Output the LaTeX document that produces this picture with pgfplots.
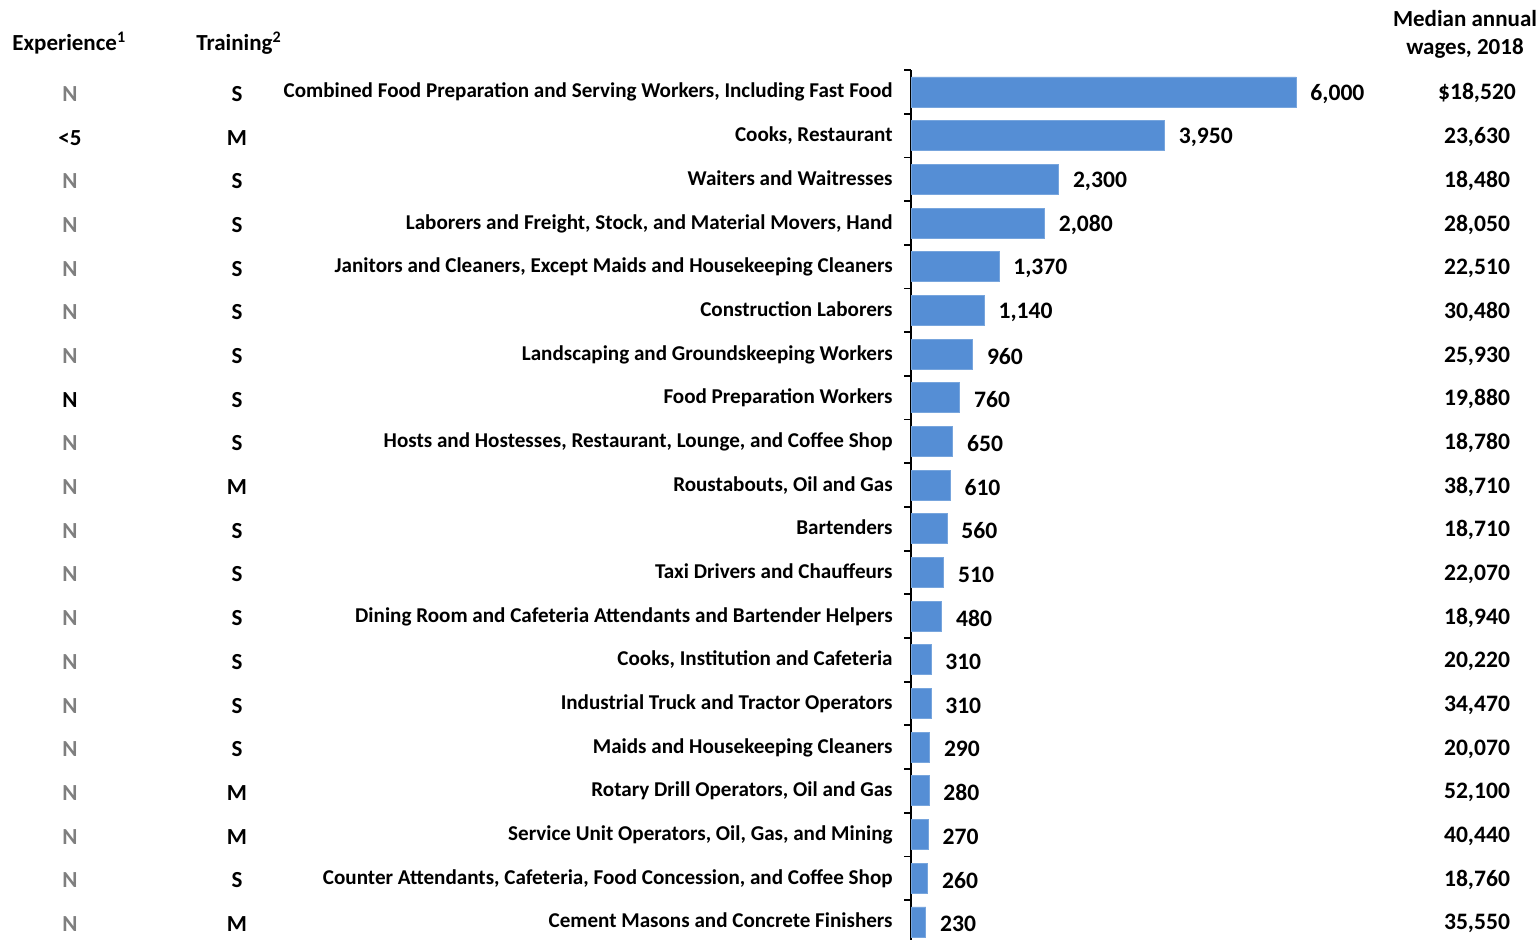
\documentclass[border=0pt]{standalone}
\usepackage{fontspec}
\setmainfont{Carlito}
\usepackage{pgfplots}
\pgfplotsset{compat=1.18}
\usepackage{pgfplotstable}
\definecolor{barblue}{HTML}{558ED5}
\definecolor{ngray}{HTML}{7F7F7F}

\pgfplotstableread[col sep=comma]{
row,jobs
1,6000
2,3950
3,2300
4,2080
5,1370
6,1140
7,960
8,760
9,650
10,610
11,560
12,510
13,480
14,310
15,310
16,290
17,280
18,270
19,260
20,230
}\jobdata

\begin{document}
\begin{tikzpicture}[x=0.5pt,y=-0.5pt,font=\bfseries\fontsize{10.55}{12}\selectfont]
\begin{axis}[
    at={(455.5pt,-35.075pt)}, anchor=north west,
    x=0.032083pt, y=21.84pt,
    y dir=reverse,
    xmin=0, xmax=9500,
    ymin=0.5, ymax=20.5,
    axis x line=none,
    axis y line*=left,
    ytick={0.5,1.5,...,20.5},
    yticklabels={},
    tick align=outside,
    major tick length=3.5pt,
    y axis line style={line width=0.9pt},
    ytick style={line width=0.9pt, black},
    clip=false,
    xbar, bar width=15pt,
    point meta=x,
    nodes near coords={\pgfmathprintnumber[1000 sep={,}, assume math mode=true]{\pgfplotspointmeta}},
    nodes near coords style={anchor=west, inner sep=0pt, xshift=7pt, yshift=-1pt,
        font=\bfseries\fontsize{11.8}{13}\selectfont},
]
\addplot[fill=barblue, draw=barblue!80!white] table[x=jobs, y=row] {\jobdata};
\end{axis}

% headers
\node[anchor=base west, inner sep=0pt, font=\bfseries\fontsize{11.5}{13}\selectfont] at (12,51) {Experience\textsuperscript{1}};
\node[anchor=base west, inner sep=0pt, font=\bfseries\fontsize{11.5}{13}\selectfont] at (196,51) {Training\textsuperscript{2}};
\node[anchor=base, inner sep=0pt, font=\bfseries\fontsize{11.5}{13}\selectfont] at (1465,27) {Median annual};
\node[anchor=base, inner sep=0pt, font=\bfseries\fontsize{11.5}{13}\selectfont] at (1465,55) {wages, 2018};

% rows
\foreach \i/\e/\t/\lab/\w [count=\k] in {
 ngray/N/S/{Combined Food Preparation and Serving Workers, Including Fast Food}/{\$18,520},
 black/{<5}/M/{Cooks, Restaurant}/{23,630},
 ngray/N/S/{Waiters and Waitresses}/{18,480},
 ngray/N/S/{Laborers and Freight, Stock, and Material Movers, Hand}/{28,050},
 ngray/N/S/{Janitors and Cleaners, Except Maids and Housekeeping Cleaners}/{22,510},
 ngray/N/S/{Construction Laborers}/{30,480},
 ngray/N/S/{Landscaping and Groundskeeping Workers}/{25,930},
 black/N/S/{Food Preparation Workers}/{19,880},
 ngray/N/S/{Hosts and Hostesses, Restaurant, Lounge, and Coffee Shop}/{18,780},
 ngray/N/M/{Roustabouts, Oil and Gas}/{38,710},
 ngray/N/S/{Bartenders}/{18,710},
 ngray/N/S/{Taxi Drivers and Chauffeurs}/{22,070},
 ngray/N/S/{Dining Room and Cafeteria Attendants and Bartender Helpers}/{18,940},
 ngray/N/S/{Cooks, Institution and Cafeteria}/{20,220},
 ngray/N/S/{Industrial Truck and Tractor Operators}/{34,470},
 ngray/N/S/{Maids and Housekeeping Cleaners}/{20,070},
 ngray/N/M/{Rotary Drill Operators, Oil and Gas}/{52,100},
 ngray/N/M/{Service Unit Operators, Oil, Gas, and Mining}/{40,440},
 ngray/N/S/{Counter Attendants, Cafeteria, Food Concession, and Coffee Shop}/{18,760},
 ngray/N/M/{Cement Masons and Concrete Finishers}/{35,550}
}{
  \pgfmathsetmacro{\yy}{92+43.68*(\k-1)}
  \node[text=\i, anchor=base, inner sep=0pt, font=\bfseries\fontsize{11.5}{13}\selectfont] at (70,\yy+9.5) {\e};
  \node[anchor=base, inner sep=0pt, font=\bfseries\fontsize{11.5}{13}\selectfont] at (237,\yy+9.5) {\t};
  \node[anchor=base east, inner sep=0pt] at (893,\yy+6) {\lab};
  \node[anchor=base, inner sep=0pt, font=\bfseries\fontsize{11.8}{13}\selectfont] at (1477,\yy+8) {\w};
}

\pgfresetboundingbox
\useasboundingbox (0,0) rectangle (1539,940);
\end{tikzpicture}
\end{document}
